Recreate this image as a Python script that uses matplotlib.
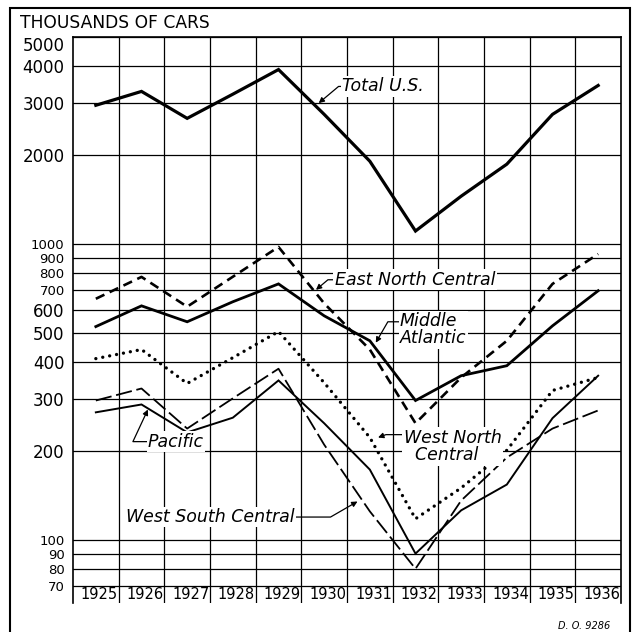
import matplotlib
matplotlib.use("Agg")
import matplotlib.pyplot as plt
from matplotlib.patches import Rectangle
import numpy as np

# thousands of cars
years = [1925, 1926, 1927, 1928, 1929, 1930, 1931, 1932, 1933, 1934, 1935, 1936]
total_us = [2940, 3275, 2656, 3205, 3882, 2740, 1903, 1106, 1450, 1860, 2740, 3430]
east_north_central = [653, 774, 614, 775, 977, 630, 440, 248, 354, 471, 733, 925]
middle_atlantic = [526, 618, 546, 638, 733, 572, 471, 296, 359, 388, 529, 695]
west_north_central = [410, 440, 338, 413, 506, 340, 222, 118, 150, 201, 320, 354]
pacific = [270, 287, 231, 259, 346, 248, 173, 90, 126, 154, 258, 359]
west_south_central = [296, 325, 238, 301, 379, 210, 125, 80, 136, 190, 238, 274]

ytick_vals = [70, 80, 90, 100, 200, 300, 400, 500, 600, 700, 800, 900,
              1000, 2000, 3000, 4000, 5000]
crowded = [70, 80, 90, 100, 700, 800, 900, 1000]

plt.rcParams["font.family"] = "DejaVu Sans"

fig = plt.figure(figsize=(6.36, 6.32), dpi=100)
ax = fig.add_axes([73/636, 1-603/632, (621-73)/636, (603-37)/632])

x = np.arange(len(years))

ax.plot(x, total_us, color="black", lw=2.3, solid_joinstyle="miter")
ax.plot(x, east_north_central, color="black", lw=1.9, dashes=(3.6, 2.2))
ax.plot(x, middle_atlantic, color="black", lw=2.0, solid_joinstyle="miter")
ax.plot(x, west_north_central, color="black", lw=2.4, dashes=(0.01, 2.1),
        dash_capstyle="round")
ax.plot(x, pacific, color="black", lw=1.4, solid_joinstyle="miter")
ax.plot(x, west_south_central, color="black", lw=1.3, dashes=(9, 2.6))

ax.set_yscale("log")
ax.set_ylim(61.3, 5000)
ax.set_xlim(-0.5, len(years) - 0.5)
ax.yaxis.set_minor_locator(matplotlib.ticker.NullLocator())
ax.set_yticks(ytick_vals, [str(v) for v in ytick_vals])
for t, v in zip(ax.get_yticklabels(), ytick_vals):
    t.set_fontsize(9.5 if v in crowded else 12)
    if v == ytick_vals[-1]:
        t.set_va("top")
ax.set_xticks(np.arange(len(years) - 1) + 0.5, [])
ax.tick_params(length=0, pad=6)
ax.grid(True, color="black", lw=0.9)
ax.set_axisbelow(True)
ax.spines["bottom"].set_visible(False)
for s in ["left", "right", "top"]:
    ax.spines[s].set_linewidth(1.2)

for i, yr in enumerate(years):
    ax.text(i + 0.08, 65.5, str(yr), ha="center", va="center", fontsize=10.5)

lab = dict(fontsize=12.5, style="italic", zorder=4,
           bbox=dict(facecolor="white", edgecolor="none", pad=1))
arr = dict(arrowstyle="-|>", color="black", lw=0.9, shrinkA=0, shrinkB=0,
           mutation_scale=8)

# Total U.S.
ax.text(5.39, 3404, "Total U.S.", ha="left", va="center", **lab)
ax.annotate("", xy=(4.88, 2990), xytext=(5.39, 3404),
            arrowprops=dict(connectionstyle="angle,angleA=0,angleB=40", **arr))
# East North Central
ax.text(5.23, 757, "East North Central", ha="left", va="center", **lab)
ax.annotate("", xy=(4.82, 700), xytext=(5.23, 757),
            arrowprops=dict(connectionstyle="angle,angleA=0,angleB=40", **arr))
# Middle Atlantic
ax.text(6.66, 514, "Middle\nAtlantic", ha="left", va="center",
        linespacing=0.95, **lab)
ax.annotate("", xy=(6.13, 464), xytext=(6.64, 546),
            arrowprops=dict(connectionstyle="angle,angleA=0,angleB=60", **arr))
# West North Central
ax.text(6.74, 207, "West North\n  Central", ha="left", va="center",
        linespacing=0.95, **lab)
ax.annotate("", xy=(6.18, 222), xytext=(6.72, 227),
            arrowprops=dict(connectionstyle="angle,angleA=0,angleB=20", **arr))
# Pacific
ax.text(1.14, 215, "Pacific", ha="left", va="center", **lab)
ax.annotate("", xy=(1.14, 276), xytext=(1.12, 215),
            arrowprops=dict(connectionstyle="angle,angleA=0,angleB=65", **arr))
# West South Central
ax.text(4.36, 119.6, "West South Central", ha="right", va="center", **lab)
ax.annotate("", xy=(5.73, 135), xytext=(4.38, 119.6),
            arrowprops=dict(connectionstyle="angle,angleA=0,angleB=30", **arr))

fig.text(20/636, 1-23/632, "THOUSANDS OF CARS", ha="left", va="center",
         fontsize=12.3)
fig.text(610/636, 1-626/632, "D. O. 9286", ha="right", va="center",
         fontsize=7, style="italic")

fig.patches.append(Rectangle((10/636, -0.02), 620/636, 1.02 - 8/632,
                             transform=fig.transFigure, fill=False,
                             edgecolor="black", lw=1.5))

fig.savefig("out.png", dpi=100)
